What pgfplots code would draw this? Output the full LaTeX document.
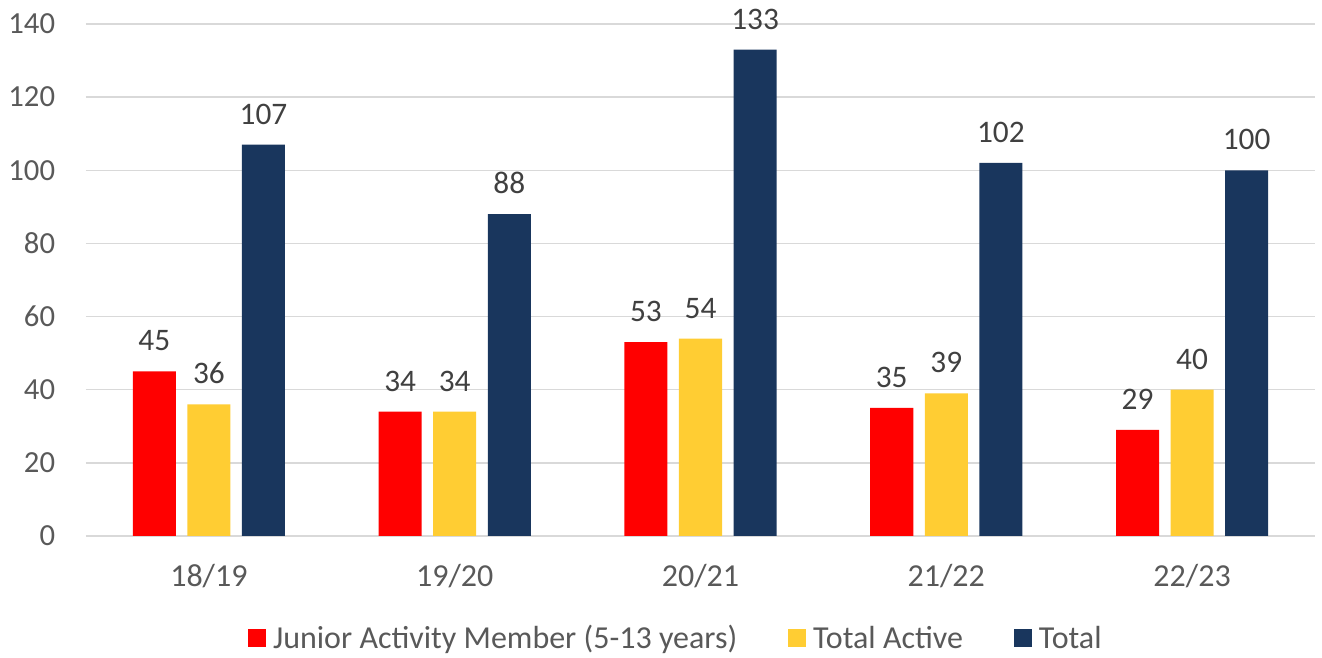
\documentclass[border=0pt]{standalone}
\usepackage{pgfplots}
\pgfplotsset{compat=1.18}
\usepackage{fontspec}
\setmainfont{Carlito}
\definecolor{cRed}{RGB}{255,0,0}
\definecolor{cYel}{RGB}{255,205,51}
\definecolor{cNavy}{RGB}{25,54,93}
\definecolor{cGrid}{RGB}{217,217,217}
\definecolor{cTick}{RGB}{89,89,89}
\definecolor{cLab}{RGB}{64,64,64}
\begin{document}
\begin{tikzpicture}
\begin{axis}[
  scale only axis,
  width=921.75pt, height=384pt,
  xmin=-0.5, xmax=4.5, ymin=0, ymax=140,
  ytick={0,20,...,140},
  xtick={0,1,2,3,4},
  xticklabels={18/19,19/20,20/21,21/22,22/23},
  ymajorgrids, grid style={cGrid, line width=1.1pt},
  axis line style={draw=none},
  major tick length=0pt,
  ybar, bar width=0.175,
  font=\fontsize{23}{27}\selectfont,
  /pgf/number format/assume math mode=true,
  ticklabel style={font=\fontsize{23}{27}\selectfont, text=cTick},
  yticklabel style={inner sep=0pt, anchor=east, xshift=-23pt},
  xticklabel style={inner sep=0pt, anchor=north, yshift=-21pt, font=\fontsize{24}{28}\selectfont},
  nodes near coords,
  every node near coord/.append style={font=\fontsize{23.5}{28}\selectfont, text=cLab, inner sep=0pt, anchor=south, yshift=15pt},
  legend columns=3,
  legend cell align=left,
  legend style={draw=none, fill=none, at={(0.479,0)}, anchor=center, yshift=-76.5pt,
    font=\fontsize{24}{28}\selectfont, text=cTick,
    nodes={inner sep=0pt},
    /tikz/every odd column/.append style={column sep=5.5pt},
    /tikz/every even column/.append style={column sep=38pt}},
  legend image code/.code={\fill[#1] (0pt,-6.75pt) rectangle (13.5pt,6.75pt);},
]
\addplot[fill=cRed, draw=none, bar shift=-0.222] coordinates {(0,45) (1,34) (2,53) (3,35) (4,29)};
\addplot[fill=cYel, draw=none, bar shift=0] coordinates {(0,36) (1,34) (2,54) (3,39) (4,40)};
\addplot[fill=cNavy, draw=none, bar shift=0.222] coordinates {(0,107) (1,88) (2,133) (3,102) (4,100)};
\legend{Junior Activity Member (5-13 years), Total Active, Total}
\end{axis}
\pgfresetboundingbox
\path ([xshift=-64.5pt, yshift=-91.5pt]current axis.south west) rectangle ([xshift=5.25pt, yshift=18pt]current axis.north east);
\end{tikzpicture}
\end{document}
